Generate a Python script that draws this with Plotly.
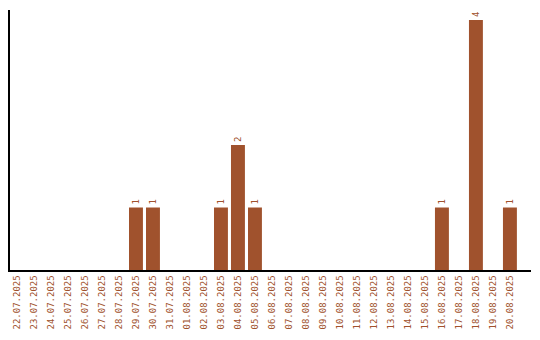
import plotly.graph_objects as go

# Daily counts, 22.07.2025 – 20.08.2025
dates = [
    "22.07.2025", "23.07.2025", "24.07.2025", "25.07.2025", "26.07.2025",
    "27.07.2025", "28.07.2025", "29.07.2025", "30.07.2025", "31.07.2025",
    "01.08.2025", "02.08.2025", "03.08.2025", "04.08.2025", "05.08.2025",
    "06.08.2025", "07.08.2025", "08.08.2025", "09.08.2025", "10.08.2025",
    "11.08.2025", "12.08.2025", "13.08.2025", "14.08.2025", "15.08.2025",
    "16.08.2025", "17.08.2025", "18.08.2025", "19.08.2025", "20.08.2025",
]
counts = [
    0, 0, 0, 0, 0, 0, 0, 1, 1, 0,
    0, 0, 1, 2, 1, 0, 0, 0, 0, 0,
    0, 0, 0, 0, 0, 1, 0, 4, 0, 1,
]

COLOR = "#A0522D"
FONT = "DejaVu Sans Mono"

labels = [str(c) if c > 0 else "" for c in counts]

fig = go.Figure(
    go.Bar(
        x=dates,
        y=counts,
        marker=dict(color=COLOR, line=dict(width=0)),
        text=labels,
        textposition="outside",
        textangle=-90,
        textfont=dict(family=FONT, size=9, color=COLOR),
        cliponaxis=False,
        hoverinfo="x+y",
    )
)

fig.update_layout(
    width=540,
    height=340,
    margin=dict(l=10, r=9, t=10, b=70),
    paper_bgcolor="white",
    plot_bgcolor="white",
    bargap=0.18,
    showlegend=False,
    font=dict(family=FONT, size=9, color=COLOR),
    xaxis=dict(
        type="category",
        range=[-0.41, 30.24],
        showline=True,
        linecolor="black",
        linewidth=1.5,
        showgrid=False,
        zeroline=False,
        ticks="",
        tickangle=-90,
        tickfont=dict(family=FONT, size=9, color=COLOR),
    ),
    yaxis=dict(
        range=[0, 4.16],
        showline=True,
        linecolor="black",
        linewidth=1.5,
        showgrid=False,
        zeroline=False,
        ticks="",
        showticklabels=False,
    ),
)

fig.write_html("out.html")
